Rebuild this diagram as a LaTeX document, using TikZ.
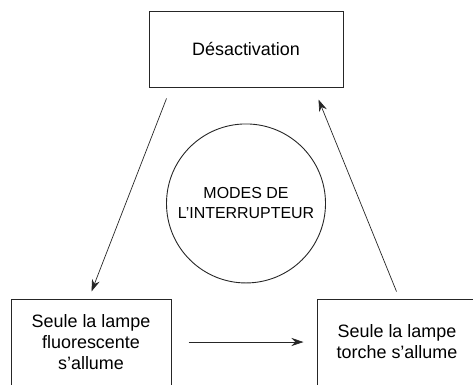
\documentclass[tikz,border=0pt]{standalone}
\usepackage{fontspec}
\setmainfont{Liberation Sans}
\usetikzlibrary{positioning, arrows.meta}

\begin{document}
\begin{tikzpicture}[
x=1bp, y=1bp,
node distance=1cm,
every node/.style={align=center, font=\fontsize{18}{21}\selectfont},
boxstyle/.style={draw=black!85, line width=1pt, minimum width=194bp, minimum height=76bp},
modebox/.style={boxstyle, minimum width=160bp, minimum height=86bp},
hub/.style={circle, draw=black!85, line width=0.9pt, minimum size=159bp, font=\fontsize{16}{20}\selectfont},
flow/.style={-{Stealth[length=12bp, width=8bp]}, line width=0.7pt, black!85}
]
\useasboundingbox (0,0) rectangle (473,384);
\clip (0,0) rectangle (473,384);
% switch states
\node[boxstyle] (off) at (246,335) {Désactivation};
\node[hub, below=36bp of off] (modes) {MODES DE\\L’INTERRUPTEUR};
\node[modebox] (fluo) at (91,42) {Seule la lampe\\fluorescente\\s’allume};
\node[modebox, right=145bp of fluo] (torch) {Seule la lampe\\torche s’allume};
% cycle between the states
\draw[flow] ([xshift=18bp, yshift=-11bp]off.south west) -- ([xshift=81bp, yshift=7bp]fluo.north west);
\draw[flow, shorten <=17bp, shorten >=13bp] (fluo) -- (torch);
\draw[flow] ([xshift=80bp, yshift=7bp]torch.north west) -- ([xshift=-25bp, yshift=-12bp]off.south east);
\end{tikzpicture}
\end{document}
